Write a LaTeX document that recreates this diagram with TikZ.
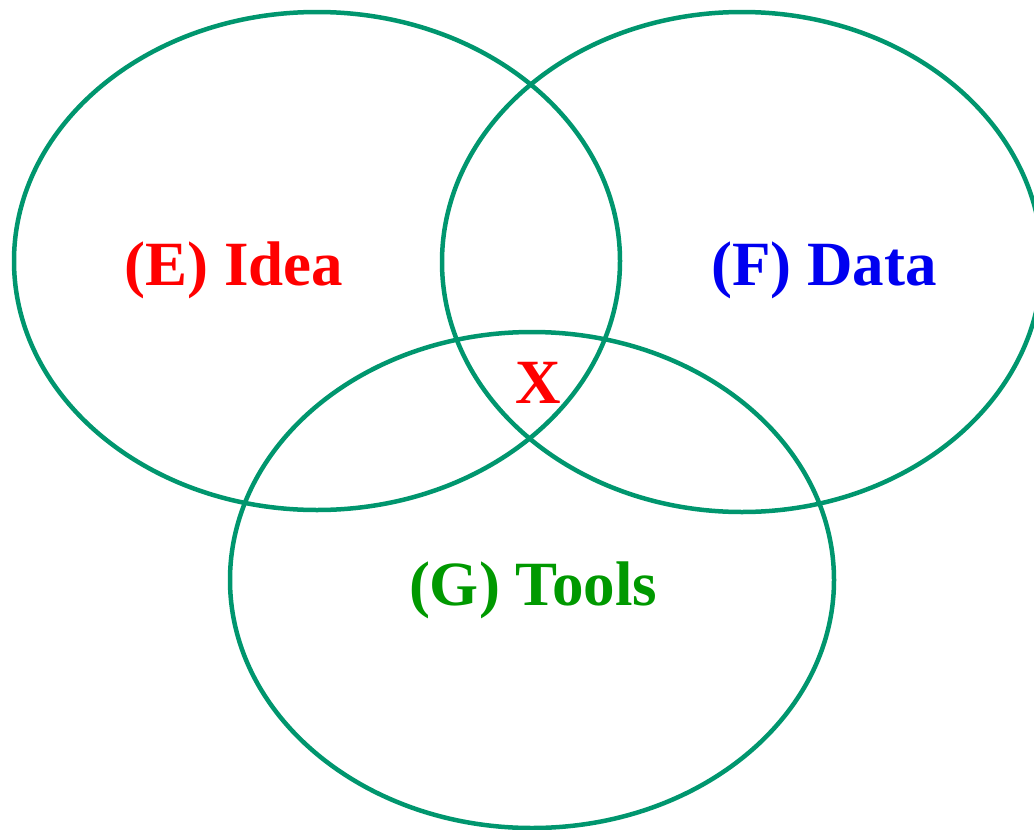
\documentclass[tikz,border=0pt]{standalone}
\usepackage{fontspec}
\setmainfont{Liberation Serif}
\usepackage{xcolor}
\usepackage{tikz}
\usetikzlibrary{positioning, shapes.geometric}
\definecolor{vRing}{HTML}{00966E}
\definecolor{vRed}{HTML}{FF0000}
\definecolor{vBlue}{HTML}{0000F0}
\definecolor{vGreen}{HTML}{009900}

\begin{document}
\begin{tikzpicture}[x=1pt, y=-1pt]
  \useasboundingbox (0,0) rectangle (1034,830);
  \tikzset{ring/.style={draw=vRing, line width=4.5pt, ellipse, inner sep=0pt},
    lbl/.style={anchor=base, inner sep=0pt, font=\fontsize{63}{70}\selectfont\bfseries}}
  % the three sets
  \node[ring, minimum width=606pt, minimum height=498pt] (idea) at (317,261) {};
  \node[ring, minimum width=600pt, minimum height=500pt] (data) at (742,262) {};
  \node[ring, minimum width=604pt, minimum height=496pt] (tools) at (532,580) {};
  % labels
  \node[lbl, text=vRed] (ideaL) at (234,285) {(E) Idea};
  \node[lbl, text=vBlue] (dataL) at (824,285) {(F) Data};
  \node[lbl, text=vGreen] (toolsL) at (533,605) {(G) Tools};
  \node[lbl, text=vRed] (x) at (538,403) {X};
\end{tikzpicture}
\end{document}
